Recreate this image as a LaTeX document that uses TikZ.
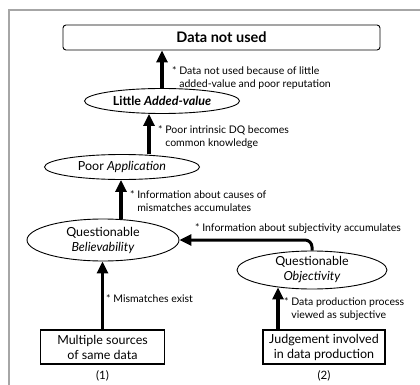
\documentclass[tikz,border=0pt]{standalone}
\usepackage{fontspec}
\setmainfont{Lato}
\usetikzlibrary{
  shapes.geometric,
  arrows.meta,
  positioning, calc
}
\tikzset{
  topbox/.style={rectangle,rounded corners=3pt,draw,line width=0.9pt,
    minimum width=317pt,minimum height=25pt,font=\fontsize{14.5}{16}\selectfont\bfseries},
  srcbox/.style={rectangle,draw,line width=1.2pt,minimum width=124pt,
    minimum height=34pt,inner sep=1pt,align=center,font=\fontsize{12.5}{15}\selectfont},
  dqnode/.style={ellipse,draw,line width=0.9pt,inner sep=0pt,align=center,
    font=\fontsize{12.5}{15}\selectfont},
  note/.style={inner sep=0pt,align=left,font=\fontsize{10.5}{13}\selectfont},
  arr/.style={-{Triangle[length=12pt,width=11pt]},line width=3.5pt}
}

\begin{document}
\begin{tikzpicture}[x=1pt,y=-1pt]
  \useasboundingbox (0,0) rectangle (420,385);
  \draw[gray!70,line width=1.5pt] (9,386) -- (9,10) -- (421,10);

  \node[topbox] (used) at (221.5,37.5) {Data not used};
  \node[dqnode,minimum width=155pt,minimum height=25pt,font=\fontsize{12.5}{15}\selectfont\bfseries]
    (added) at (162,101) {Little \textit{Added-value}};
  \node[dqnode,minimum width=155pt,minimum height=25pt] (appl) at (122,167) {Poor \textit{Application}};
  \node[dqnode,minimum width=152pt,minimum height=42pt] (believ) at (103,240) {Questionable\\\textit{Believability}};
  \node[dqnode,minimum width=150pt,minimum height=38pt] (object) at (312,270) {Questionable\\\textit{Objectivity}};
  \node[srcbox] (multi) at (102.5,347) {Multiple sources\\of same data};
  \node[srcbox,minimum width=122pt] (judge) at (324,347) {Judgement involved\\in data production};

  \node[font=\fontsize{11.5}{13}\selectfont,below=2pt of multi] (case1) {(1)};
  \node[font=\fontsize{11.5}{13}\selectfont,below=2pt of judge] (case2) {(2)};

  \draw[arr] (added.north) -- (added.north |- used.south);
  \draw[arr] ([xshift=-13pt]added.south |- appl.north) -- ([xshift=-13pt]added.south);
  \draw[arr] ([xshift=18pt]believ.north) -- ([xshift=18pt]believ.north |- appl.south);
  \draw[arr] (multi.north) -- (multi.north |- believ.south);
  \draw[arr] ([xshift=-46pt]judge.north) -- ([xshift=-46pt,yshift=2pt]judge.north |- object.south);
  \draw[arr,line width=3pt,rounded corners=7pt] (object.north) |- (believ.east);

  \node[note,anchor=north west] (n1) at (172,66) {* Data not used because of little\\\hphantom{*~}added-value and poor reputation};
  \node[note,anchor=north west] (n2) at (158,125) {* Poor intrinsic DQ becomes\\\hphantom{*~}common knowledge};
  \node[note,anchor=north west] (n3) at (130,190) {* Information about causes of\\\hphantom{*~}mismatches accumulates};
  \node[note,anchor=west] (n4) at (195,229) {* Information about subjectivity accumulates};
  \node[note,anchor=west] (n5) at (106,299) {* Mismatches exist};
  \node[note,anchor=north west] (n6) at (284,297) {* Data production process\\\hphantom{*~}viewed as subjective};

\end{tikzpicture}
\end{document}
